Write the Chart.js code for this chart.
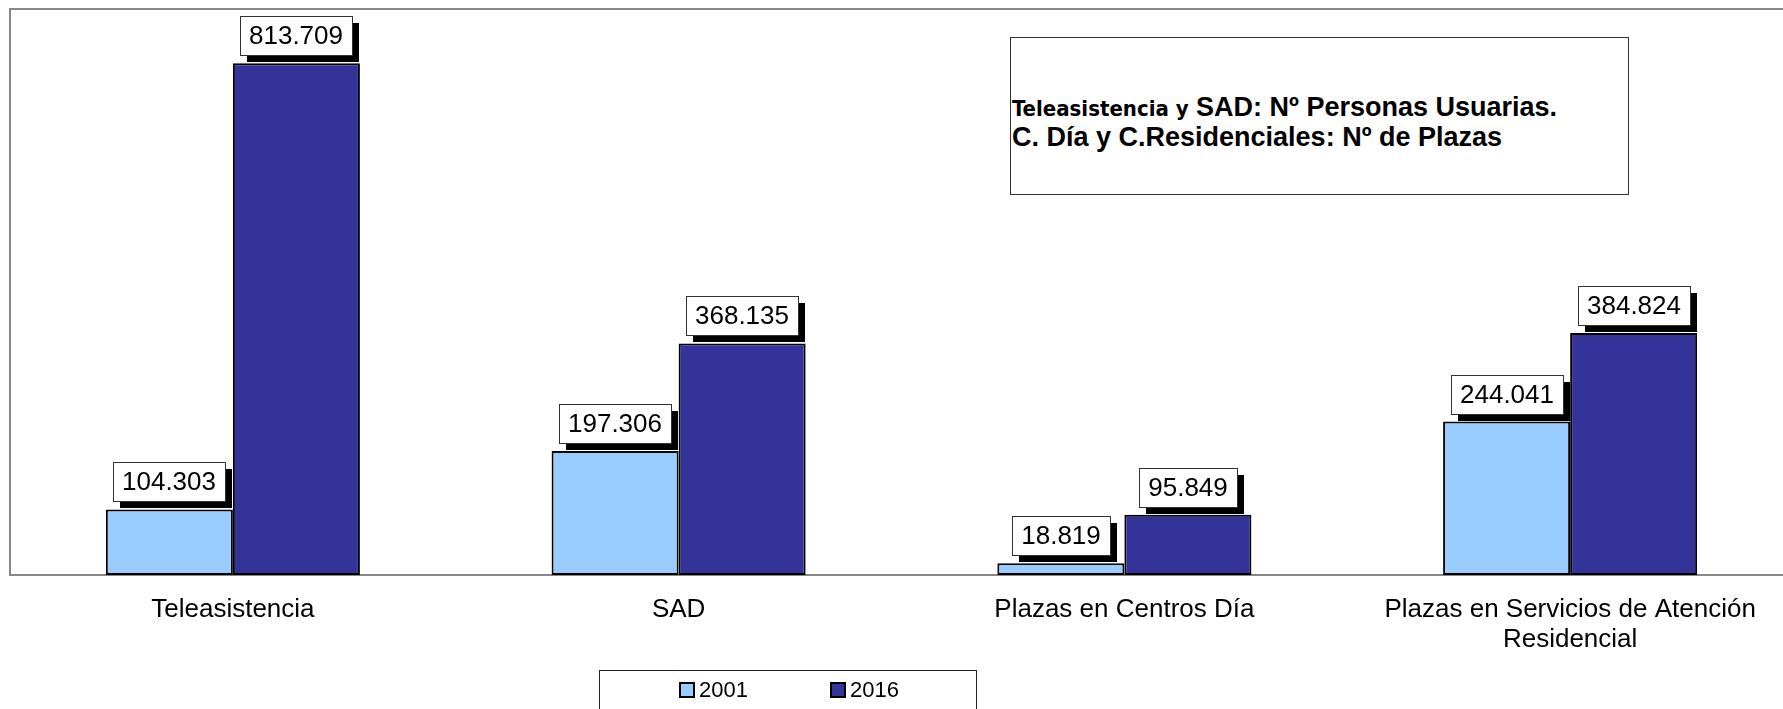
<!DOCTYPE html>
<html lang="es">
<head>
    <meta charset="UTF-8">
    <title>Teleasistencia, SAD y plazas 2001-2016</title>
    <script src="https://cdn.jsdelivr.net/npm/chart.js"></script>
    <style>
        html, body {
            margin: 0;
            padding: 0;
            background: #ffffff;
            overflow: hidden;
        }

        #wrap {
            position: relative;
            width: 1793px;
            height: 709px;
        }

        #servicios-chart {
            position: absolute;
            left: 0;
            top: 0;
        }

        #nota {
            position: absolute;
            left: 1010px;
            top: 37px;
            width: 617px;
            height: 156px;
            border: 1px solid #333;
            background: #fff;
            font-family: Arial, "Liberation Sans", sans-serif;
            font-weight: bold;
            font-size: 27px;
            line-height: 28px;
            color: #000;
        }

        #nota .txt {
            position: absolute;
            left: 1px;
            top: 55px;
            white-space: nowrap;
        }

        #nota .narrow {
            font-family: "DejaVu Sans Condensed", "Liberation Sans Narrow", sans-serif;
            font-size: 22px;
        }
    </style>
</head>
<body>
    <div id="wrap">
        <canvas id="servicios-chart" width="1793" height="709"></canvas>
        <div id="nota">
            <div class="txt"><span class="narrow">Teleasistencia y</span> SAD: Nº Personas Usuarias.<br>C. Día y C.Residenciales: Nº de Plazas</div>
        </div>
    </div>

    <script>
        const categories = ['Teleasistencia', 'SAD', 'Plazas en Centros Día', ['Plazas en Servicios de Atención', 'Residencial']];
        const years = ['2001', '2016'];
        const values2001 = [104303, 197306, 18819, 244041];
        const values2016 = [813709, 368135, 95849, 384824];
        const colors = ['#99CCFF', '#333399'];

        const FONT = 'Arial, "Liberation Sans", sans-serif';

        function fmt(v) {
            return String(v).replace(/\B(?=(\d{3})+(?!\d))/g, '.');
        }

        // gray frame around the plot area (right side runs off the page)
        const framePlugin = {
            id: 'frame',
            beforeDatasetsDraw(chart) {
                const { ctx, chartArea } = chart;
                ctx.save();
                ctx.strokeStyle = '#888888';
                ctx.lineWidth = 2;
                ctx.strokeRect(chartArea.left, chartArea.top, chartArea.right - chartArea.left + 10, chartArea.bottom - chartArea.top);
                ctx.restore();
            }
        };

        // boxed value labels with a black shadow
        const boxLabels = {
            id: 'boxLabels',
            afterDatasetsDraw(chart) {
                const ctx = chart.ctx;
                ctx.save();
                ctx.font = '26px ' + FONT;
                ctx.textAlign = 'center';
                ctx.textBaseline = 'middle';
                chart.data.datasets.forEach((ds, i) => {
                    chart.getDatasetMeta(i).data.forEach((bar, j) => {
                        const text = fmt(ds.data[j]);
                        const w = Math.round(ctx.measureText(text).width + 18);
                        const h = 39;
                        const bx = Math.round(bar.x - w / 2);
                        const by = Math.round(bar.y - 8 - h);
                        ctx.fillStyle = '#000';
                        ctx.fillRect(bx + 7, by + 7, w, h);
                        ctx.fillStyle = '#fff';
                        ctx.fillRect(bx, by, w, h);
                        ctx.strokeStyle = '#333';
                        ctx.lineWidth = 1;
                        ctx.strokeRect(bx + 0.5, by + 0.5, w, h);
                        ctx.fillStyle = '#000';
                        ctx.fillText(text, bx + w / 2, by + h / 2 + 1);
                    });
                });
                ctx.restore();
            }
        };

        // legend box under the axis
        const boxLegend = {
            id: 'boxLegend',
            afterDraw(chart) {
                const ctx = chart.ctx;
                ctx.save();
                ctx.strokeStyle = '#222';
                ctx.lineWidth = 1;
                ctx.strokeRect(599.5, 670.5, 377, 60);
                ctx.font = '22px ' + FONT;
                ctx.textBaseline = 'middle';
                ctx.textAlign = 'left';
                const starts = [680, 831];
                chart.data.datasets.forEach((ds, i) => {
                    const x = starts[i];
                    ctx.fillStyle = ds.backgroundColor;
                    ctx.fillRect(x, 683, 14, 14);
                    ctx.strokeStyle = '#000';
                    ctx.lineWidth = 2;
                    ctx.strokeRect(x, 683, 14, 14);
                    ctx.fillStyle = '#000';
                    ctx.fillText(ds.label, x + 19, 691);
                });
                ctx.restore();
            }
        };

        new Chart(document.getElementById('servicios-chart'), {
            type: 'bar',
            data: {
                labels: categories,
                datasets: [
                    {
                        label: years[0],
                        data: values2001,
                        backgroundColor: colors[0],
                        borderColor: '#000',
                        borderWidth: 2,
                        borderSkipped: false,
                        categoryPercentage: 0.57,
                        barPercentage: 1.0
                    },
                    {
                        label: years[1],
                        data: values2016,
                        backgroundColor: colors[1],
                        borderColor: '#000',
                        borderWidth: 2,
                        borderSkipped: false,
                        categoryPercentage: 0.57,
                        barPercentage: 1.0
                    }
                ]
            },
            options: {
                responsive: false,
                animation: false,
                devicePixelRatio: 1,
                layout: {
                    padding: { left: 10, top: 9, right: 0, bottom: 0 }
                },
                plugins: {
                    legend: { display: false },
                    tooltip: { enabled: false }
                },
                scales: {
                    x: {
                        grid: { display: false, drawTicks: false },
                        border: { display: false },
                        ticks: {
                            color: '#000',
                            font: { family: FONT, size: 26, lineHeight: 1.15 },
                            padding: 20,
                            maxRotation: 0,
                            autoSkip: false
                        },
                        afterFit(scale) {
                            scale.height = 134;
                        }
                    },
                    y: {
                        display: false,
                        min: 0,
                        max: 900000
                    }
                }
            },
            plugins: [framePlugin, boxLabels, boxLegend]
        });
    </script>
</body>
</html>
